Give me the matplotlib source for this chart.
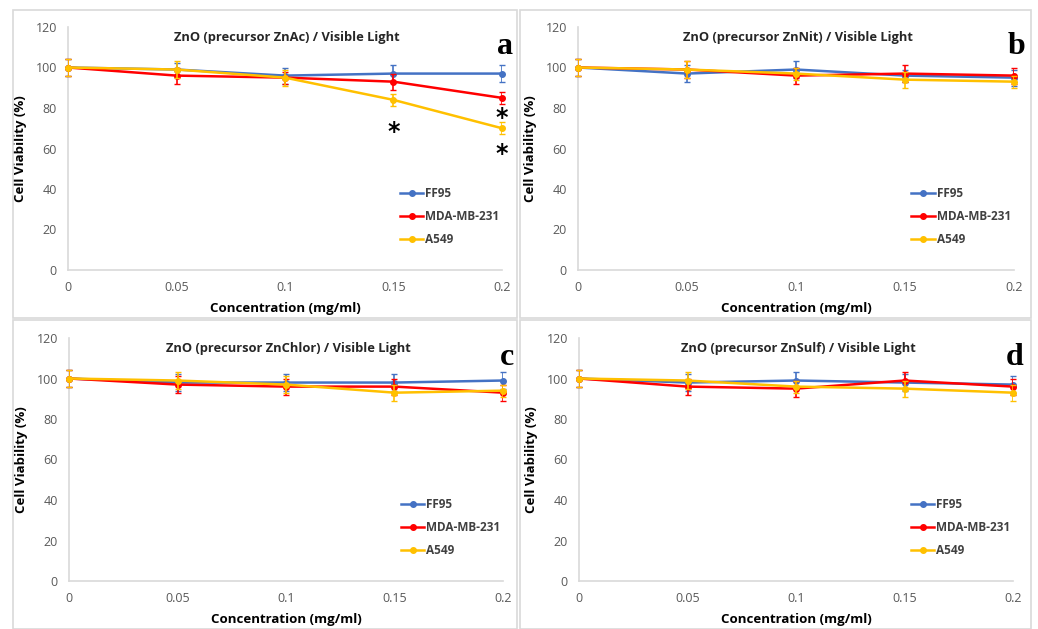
import matplotlib
matplotlib.use('Agg')
import matplotlib.pyplot as plt
from matplotlib.patches import Rectangle
from matplotlib.lines import Line2D

plt.rcParams['font.family'] = ['Open Sans', 'DejaVu Sans']

# Data
conc = [0, 0.05, 0.1, 0.15, 0.2]
series_names = ['FF95', 'MDA-MB-231', 'A549']

a_ff95 = [100, 99, 96, 97, 97]
a_mda = [100, 96, 95, 93, 85]
a_a549 = [100, 99, 95, 84, 70]
a_err = [[4, 3, 4, 4, 4], [4, 4, 3, 4, 3], [4, 4, 4, 3, 3]]

b_ff95 = [100, 97, 99, 96, 95]
b_mda = [100, 99, 96, 97, 96]
b_a549 = [100, 99, 97, 94, 93]
b_err = [[4, 4, 4, 3, 4], [4, 4, 4, 4, 4], [4, 4, 3, 4, 3]]

c_ff95 = [100, 98, 98, 98, 99]
c_mda = [100, 97, 96, 96, 93]
c_a549 = [100, 99, 97, 93, 94]
c_err = [[4, 4, 4, 4, 4], [4, 4, 4, 4, 4], [4, 4, 4, 4, 3]]

d_ff95 = [100, 98, 99, 98, 97]
d_mda = [100, 96, 95, 99, 96]
d_a549 = [100, 99, 96, 95, 93]
d_err = [[4, 4, 4, 4, 4], [4, 4, 4, 4, 4], [4, 4, 3, 4, 4]]

titles = ['ZnO (precursor ZnAc) / Visible Light',
          'ZnO (precursor ZnNit) / Visible Light',
          'ZnO (precursor ZnChlor) / Visible Light',
          'ZnO (precursor ZnSulf) / Visible Light']
letters = ['a', 'b', 'c', 'd']

# significance stars in panel a: (x, y)
star_x = [0.15, 0.2, 0.2]
star_y = [68, 75, 57.5]

colors = ['#4472C4', '#FF0000', '#FFC000']

W, H = 1038, 629
fig = plt.figure(figsize=(W / 100, H / 100), dpi=100)

# panel frames (pixels: x0, y0, x1, y1)
frames = [(13, 10, 517, 318), (520, 10, 1031, 318),
          (13, 320, 517, 629), (520, 320, 1031, 629)]
for x0, y0, x1, y1 in frames:
    fig.patches.append(Rectangle((x0 / W, 1 - y1 / H), (x1 - x0) / W, (y1 - y0) / H,
                                 transform=fig.transFigure, fill=False,
                                 edgecolor='#d9d9d9', linewidth=1.2))

# axes boxes (pixels: left, top, right, bottom)
boxes = [(68, 27, 502, 270), (578, 27, 1014, 270),
         (69, 338, 503, 581), (579, 338, 1013, 581)]

panels = [(a_ff95, a_mda, a_a549, a_err), (b_ff95, b_mda, b_a549, b_err),
          (c_ff95, c_mda, c_a549, c_err), (d_ff95, d_mda, d_a549, d_err)]

handles = [Line2D([], [], color=c, marker='o', markersize=4, linewidth=1.8)
           for c in colors]

for i, (l, t, r, b) in enumerate(boxes):
    ax = fig.add_axes([l / W, 1 - b / H, (r - l) / W, (b - t) / H])
    vals = panels[i][:3]
    errs = panels[i][3]
    for k in range(3):
        ax.errorbar(conc, vals[k], yerr=errs[k], color=colors[k], marker='o',
                    markersize=4, linewidth=1.8, elinewidth=1.2, capsize=2,
                    zorder=3 + k)
    ax.set_xlim(0, 0.2)
    ax.set_ylim(0, 120)
    ax.set_xticks(conc)
    ax.set_xticklabels(['0', '0.05', '0.1', '0.15', '0.2'])
    ax.set_yticks(range(0, 121, 20))
    ax.tick_params(length=0, labelsize=9, labelcolor='#595959', pad=8)
    for s in ['top', 'right']:
        ax.spines[s].set_visible(False)
    for s in ['left', 'bottom']:
        ax.spines[s].set_color('#d9d9d9')
        ax.spines[s].set_linewidth(1.2)
    ax.set_xlabel('Concentration (mg/ml)', fontsize=9.5, fontweight='bold', labelpad=6)
    ax.set_ylabel('Cell Viability (%)', fontsize=9.5, fontweight='bold', labelpad=6)
    ax.text(0.505, 0.985, titles[i], transform=ax.transAxes, ha='center', va='top',
            fontsize=9.3, fontweight='bold', color='#262626')
    ax.text(1.025, 0.98, letters[i], transform=ax.transAxes, ha='right', va='top',
            fontsize=23, fontweight='bold', family='Liberation Serif')
    leg = ax.legend(handles, series_names, loc='lower left',
                    bbox_to_anchor=(0.74, 0.055), frameon=False,
                    handlelength=2.0, handletextpad=0.15, labelspacing=0.85,
                    prop={'size': 8.5, 'weight': 'bold'})
    for txt in leg.get_texts():
        txt.set_color('#404040')
    if i == 0:
        for sx, sy in zip(star_x, star_y):
            ax.text(sx, sy, '*', ha='center', va='center', fontsize=17,
                    fontweight='bold', color='black', family='DejaVu Sans')
    for line in ax.lines:
        line.set_clip_on(False)

fig.savefig('out.png', dpi=100)
